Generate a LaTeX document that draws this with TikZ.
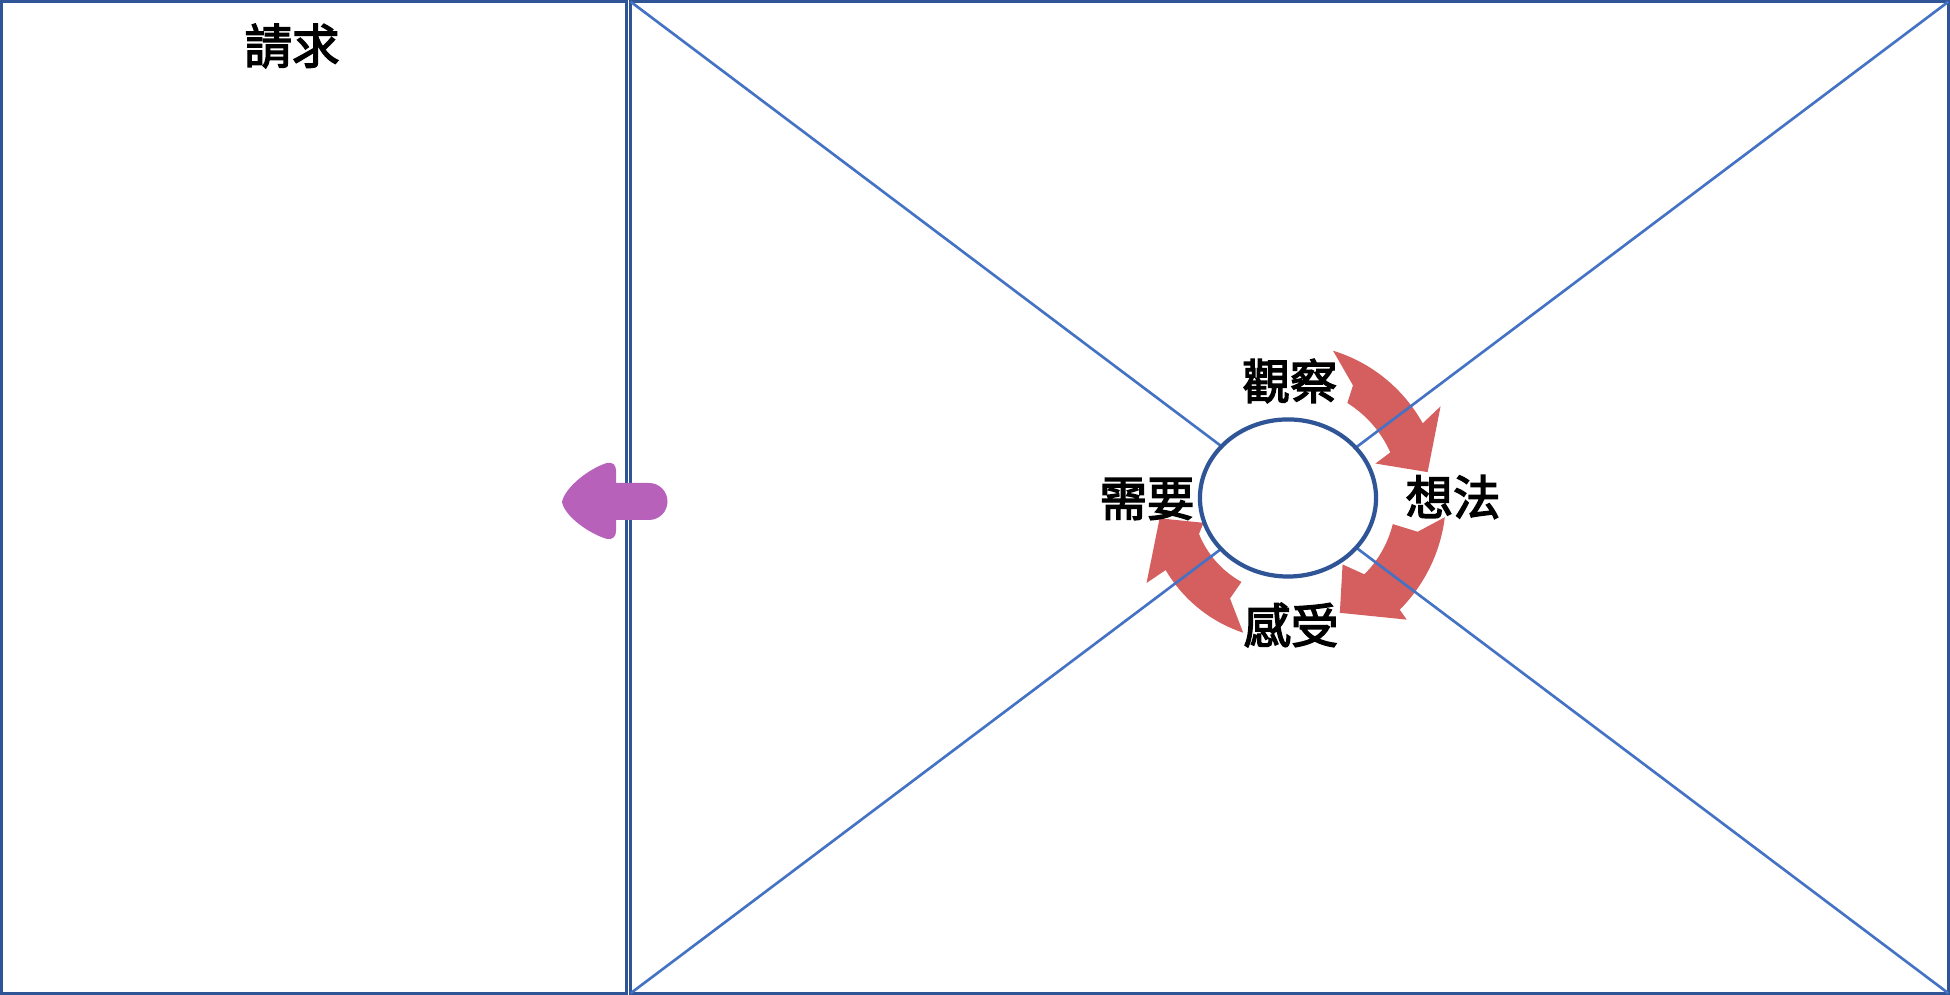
\documentclass[tikz,border=0pt]{standalone}
\usepackage{fontspec}
\newfontfamily\cjk{Noto Sans CJK TC}[FakeBold=3]
\usetikzlibrary{shapes.geometric}
\definecolor{frameblue}{RGB}{47,85,151}
\definecolor{diagblue}{RGB}{68,114,196}
\definecolor{arrowred}{RGB}{213,94,94}
\definecolor{arrowpink}{RGB}{183,97,186}
\begin{document}
\begin{tikzpicture}[x=0.01cm,y=0.01cm,
  lbl/.style={font=\cjk\fontsize{13.5pt}{16pt}\selectfont, inner sep=0pt},
  panel/.style={draw=frameblue, line width=0.9pt, inner sep=0pt, outer sep=0pt},
  diag/.style={draw=diagblue, line width=0.75pt},
  cyc/.style={fill=arrowred}]
\useasboundingbox (0,0) rectangle (1950,995);
\fill[white] (0,0) rectangle (1950,995);
% panels
\node[panel, minimum width=6.24cm, minimum height=9.91cm] (L) at (314,497.5) {};
\node[panel, minimum width=13.17cm, minimum height=9.91cm] (R) at (1289.5,497.5) {};
% red cycle arrows
\begin{scope}[shift={(1288,497)}]
\fill[cyc] (73:154) arc[start angle=73, end angle=29, radius=154] -- (31:178) -- (10.5:142) -- (21.5:94) -- (24:112) arc[start angle=24, end angle=58, radius=112] -- (60:130) -- cycle;
\fill[cyc] (-7:158) arc[start angle=-7, end angle=-45, radius=158] -- (-45.7:170) -- (-65.7:126) -- (-50.6:86) -- (-45:108) arc[start angle=-45, end angle=-14, radius=108] -- (-14.6:134) -- cycle;
\fill[cyc] (-108.4:142) arc[start angle=-108.4, end angle=-149.5, radius=142] -- (-149:165) -- (-171:130) -- (-163.6:88) -- (-158:96) arc[start angle=-158, end angle=-119, radius=96] -- (-120:116) -- cycle;
\end{scope}
% diagonals
\draw[diag] (R.north west) -- (R.south east);
\draw[diag] (R.south west) -- (R.north east);
% centre ellipse
\node[ellipse, draw=frameblue, line width=1.2pt, fill=white, minimum width=1.76cm, minimum height=1.57cm, inner sep=0pt] (E) at (1288,497) {};
% labels
\node[lbl] (t) at (292,949) {請求};
\node[lbl] (obs) at (1290,614) {觀察};
\node[lbl] (thk) at (1453,498) {想法};
\node[lbl] (need) at (1147,496) {需要};
\node[lbl] (feel) at (1291,370) {感受};
% pink arrow
\fill[arrowpink] (562,493) .. controls (565,508) and (590,527) .. (607,532) .. controls (613,533) and (616,530) .. (616,524) -- (616,512) -- (649,512) arc[start angle=90, end angle=-90, radius=18.5] -- (616,475) -- (616,464) .. controls (616,459) and (613,455) .. (607,456) .. controls (590,461) and (565,478) .. (562,493) -- cycle;
\end{tikzpicture}
\end{document}
